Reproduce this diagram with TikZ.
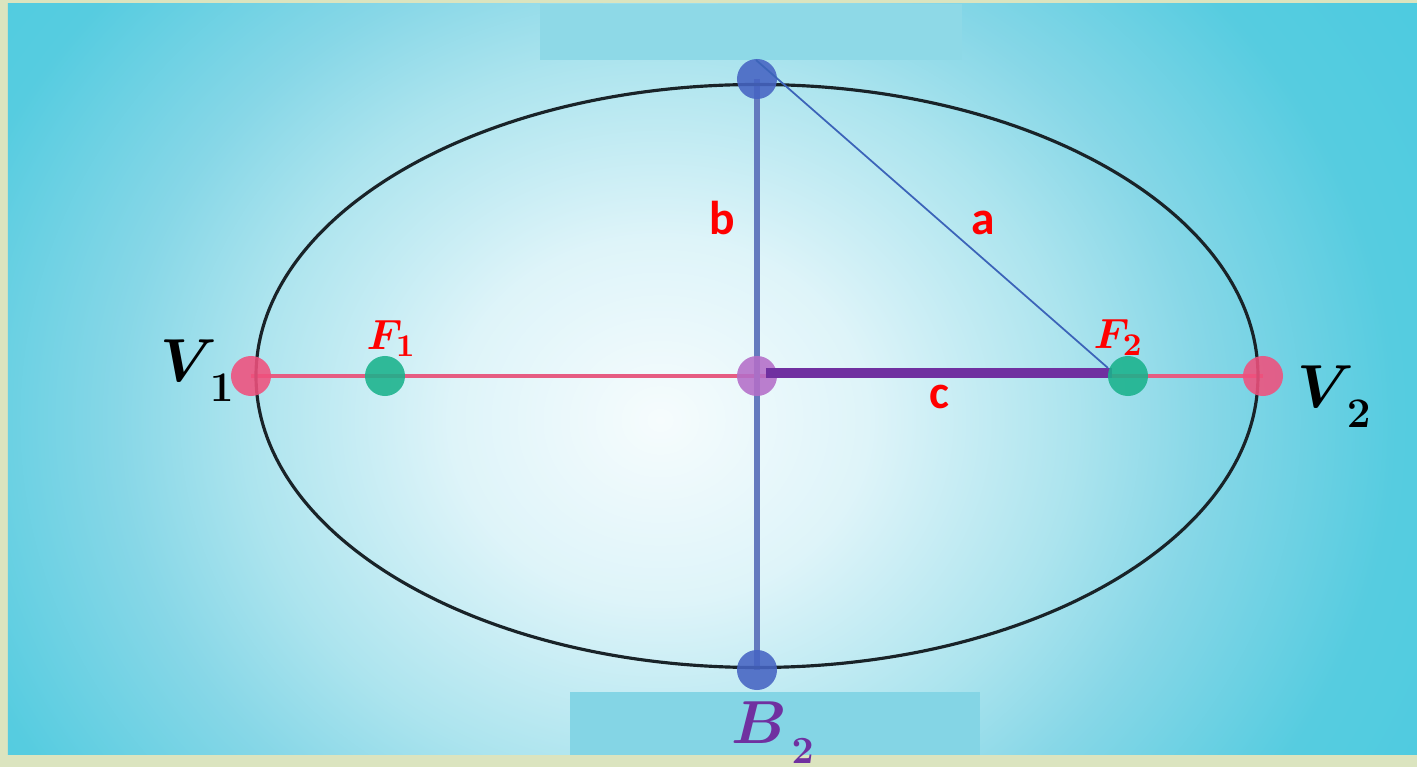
\documentclass[tikz,border=0pt]{standalone}
\usepackage{fontspec}
\newfontfamily\axisfont{Carlito}

% colours
\definecolor{frame_green}{RGB}{219,228,191}
\definecolor{glow_core}{RGB}{246,252,253}
\definecolor{glow_inner}{RGB}{222,244,249}
\definecolor{glow_mid}{RGB}{172,228,238}
\definecolor{glow_rim}{RGB}{135,215,231}
\definecolor{sky_outer}{RGB}{86,204,224}
\definecolor{sky_edge}{RGB}{70,202,224}
\definecolor{band_top}{RGB}{142,217,231}
\definecolor{band_bottom}{RGB}{132,213,229}
\definecolor{axis_pink}{RGB}{230,92,130}
\definecolor{vertex_pink}{RGB}{240,80,125}
\definecolor{focus_green}{RGB}{26,178,140}
\definecolor{minor_blue}{RGB}{70,100,195}
\definecolor{axis_blue}{RGB}{100,122,190}
\definecolor{center_violet}{RGB}{180,110,200}
\definecolor{c_purple}{RGB}{112,48,160}
\definecolor{a_blue}{RGB}{60,100,185}
\definecolor{curve_black}{RGB}{25,35,40}
\definecolor{label_red}{RGB}{255,0,0}

\pgfdeclareradialshading{sky_glow}{\pgfpoint{0bp}{0bp}}{%
    color(0bp)=(glow_core); color(6.5bp)=(glow_inner); color(13bp)=(glow_mid);
    color(17bp)=(glow_rim); color(23bp)=(sky_outer); color(32bp)=(sky_edge);
    color(50bp)=(sky_edge)}

% point name with a lowered subscript
\newcommand{\lowsub}[2]{$#1_{\,\lower3pt\hbox{$\scriptstyle #2$}}$}

\begin{document}
\begin{tikzpicture}[
    x=0.01cm, y=-0.01cm,
    % Styles
    base_dot/.style={circle, inner sep=0pt, minimum size=0.4cm, fill opacity=0.88},
    vertex_dot/.style={base_dot, fill=vertex_pink},
    focus_dot/.style={base_dot, fill=focus_green},
    minor_dot/.style={base_dot, fill=minor_blue},
    center_dot/.style={base_dot, fill=center_violet},
    major_axis/.style={draw=axis_pink, line width=1.4pt},
    minor_axis/.style={draw=axis_blue, line width=1.7pt},
    c_segment/.style={draw=c_purple, line width=3.1pt},
    a_segment/.style={draw=a_blue, line width=0.5pt},
    curve_line/.style={draw=curve_black, line width=0.9pt},
    name_label/.style={font=\fontsize{17}{20}\selectfont\boldmath, anchor=base west, inner sep=0pt},
    focus_label/.style={text=label_red, font=\fontsize{13}{16}\selectfont\boldmath, anchor=base west, inner sep=0pt},
    length_label/.style={text=label_red, font=\axisfont\bfseries\fontsize{13.5}{16}\selectfont, anchor=base, inner sep=0pt}
]
    \useasboundingbox (0,0) rectangle (1417,767);

    % ==========================================
    % 1. BACKGROUND
    % ==========================================
    \fill[frame_green] (0,0) rectangle (1417,767);
    \begin{scope}
        \clip (8,4) rectangle (1417,755);
        \fill[sky_edge] (8,4) rectangle (1417,755);
        \shade[shading=sky_glow] (-140,-280) rectangle (1460,1120);
    \end{scope}
    % faint patches
    \fill[band_top] (540,4) rectangle (962,60);
    \fill[band_bottom] (570,692) rectangle (980,755);

    % ==========================================
    % 2. COORDINATES
    % ==========================================
    \coordinate (O) at (757,376);
    \coordinate (V1) at (251,376);
    \coordinate (V2) at (1263,376);
    \coordinate (F1) at (385,376);
    \coordinate (F2) at (1128,376);
    \coordinate (B1) at (757,79);
    \coordinate (B2) at (757,670);
    \coordinate (a_start) at (756,60);
    \coordinate (a_end) at (1108,368);
    \coordinate (c_start) at (766,373);
    \coordinate (c_end) at (1112,373);

    % ==========================================
    % 3. AXES AND ELLIPSE
    % ==========================================
    \draw[major_axis] (V1) -- (V2);
    \draw[minor_axis] (B1) -- (B2);
    \draw[curve_line] (O) ellipse [x radius=501, y radius=291.5];

    % ==========================================
    % 4. POINTS
    % ==========================================
    \node[center_dot] (O_dot) at (O) {};
    \draw[c_segment] (c_start) -- (c_end);
    \foreach \p in {V1, V2} {
        \node[vertex_dot] (\p_dot) at (\p) {};
    }
    \foreach \p in {F1, F2} {
        \node[focus_dot] (\p_dot) at (\p) {};
    }
    \foreach \p in {B1, B2} {
        \node[minor_dot] (\p_dot) at (\p) {};
    }
    \draw[a_segment] (a_start) -- (a_end);

    % ==========================================
    % 5. LABELS
    % ==========================================
    \node[name_label] (V1_label) at (160,382) {\lowsub{V}{1}};
    \node[name_label] (V2_label) at (1297,408) {\lowsub{V}{2}};
    \node[name_label, text=c_purple, font=\fontsize{16}{18}\selectfont\boldmath] (B2_label) at (731,744) {\lowsub{B}{2}};
    \node[focus_label] (F1_label) at (366,350) {$F_1$};
    \node[focus_label] (F2_label) at (1093,349) {$F_2$};
    \node[length_label] (b_label) at (722,235) {b};
    \node[length_label] (a_label) at (983,235) {a};
    \node[length_label] (c_label) at (939,409) {c};

\end{tikzpicture}
\end{document}
